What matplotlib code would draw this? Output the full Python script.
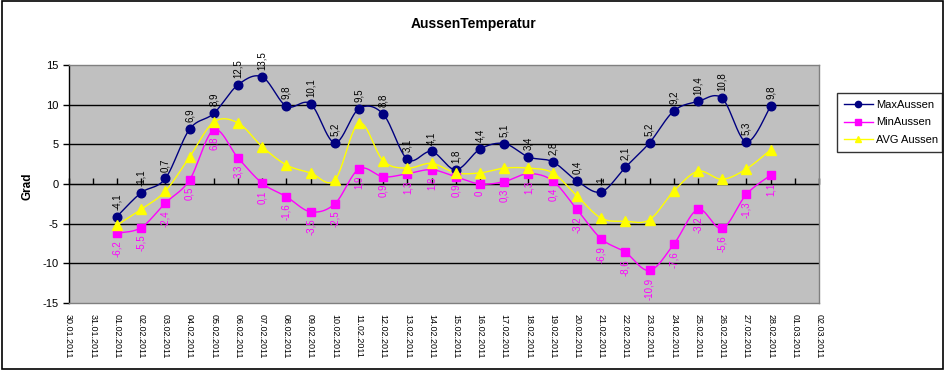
import numpy as np
import matplotlib
matplotlib.use('Agg')
import matplotlib.pyplot as plt
from matplotlib.lines import Line2D
from matplotlib.patches import Rectangle

plt.rcParams['font.family'] = ['Liberation Sans', 'DejaVu Sans']

dates = ['30.01.2011', '31.01.2011', '01.02.2011', '02.02.2011', '03.02.2011',
         '04.02.2011', '05.02.2011', '06.02.2011', '07.02.2011', '08.02.2011',
         '09.02.2011', '10.02.2011', '11.02.2011', '12.02.2011', '13.02.2011',
         '14.02.2011', '15.02.2011', '16.02.2011', '17.02.2011', '18.02.2011',
         '19.02.2011', '20.02.2011', '21.02.2011', '22.02.2011', '23.02.2011',
         '24.02.2011', '25.02.2011', '26.02.2011', '27.02.2011', '28.02.2011',
         '01.03.2011', '02.03.2011']
first_data_index = 2

max_aussen = [-4.1, -1.1, 0.7, 6.9, 8.9, 12.5, 13.5, 9.8, 10.1, 5.2, 9.5, 8.8, 3.1, 4.1,
              1.8, 4.4, 5.1, 3.4, 2.8, 0.4, -1, 2.1, 5.2, 9.2, 10.4, 10.8, 5.3, 9.8]
min_aussen = [-6.2, -5.5, -2.4, 0.5, 6.8, 3.3, 0.1, -1.6, -3.5, -2.5, 1.9, 0.9, 1.3, 1.8,
              0.9, 0, 0.3, 1.3, 0.4, -3.2, -6.9, -8.6, -10.9, -7.6, -3.2, -5.6, -1.3, 1.1]
avg_aussen = [-5.2, -3.2, -0.9, 3.4, 7.8, 7.7, 4.7, 2.4, 1.4, 0.5, 7.7, 2.9, 2.0, 2.6,
              1.4, 1.4, 2.0, 2.0, 1.4, -1.5, -4.3, -4.7, -4.5, -0.9, 1.6, 0.6, 1.9, 4.3]

series_names = ['MaxAussen', 'MinAussen', 'AVG Aussen']
y_ticks = [-15, -10, -5, 0, 5, 10, 15]


def smooth(x, y, n=24):
    pts = np.column_stack([x, y]).astype(float)
    p = np.vstack([pts[0], pts, pts[-1]])
    segs = []
    t = np.linspace(0, 1, n)[:, None]
    for i in range(1, len(p) - 2):
        p0, p1, p2, p3 = p[i - 1], p[i], p[i + 1], p[i + 2]
        c1 = p1 + (p2 - p0) / 6.0
        c2 = p2 - (p3 - p1) / 6.0
        seg = (1 - t) ** 3 * p1 + 3 * (1 - t) ** 2 * t * c1 + 3 * (1 - t) * t ** 2 * c2 + t ** 3 * p2
        segs.append(seg)
    s = np.vstack(segs)
    return s[:, 0], s[:, 1]


def fmt(v):
    if float(v).is_integer():
        return str(int(v))
    return ('%g' % v).replace('.', ',')


W, H = 946, 371
fig = plt.figure(figsize=(W / 100, H / 100), dpi=100)
fig.patch.set_facecolor('white')

left, right, top, bottom = 68.5, 819, 65, 303
ax = fig.add_axes([left / W, 1 - bottom / H, (right - left) / W, (bottom - top) / H])
ax.set_facecolor('#C0C0C0')

x = np.arange(first_data_index, first_data_index + len(max_aussen))

for v in [-10, -5, 0, 5, 10]:
    ax.axhline(v, color='black', lw=1.0, zorder=1)

styles = [
    (max_aussen, '#000080', 'o', 6.2),
    (min_aussen, '#FF00FF', 's', 6.0),
    (avg_aussen, '#FFFF00', '^', 6.5),
]
for (vals, col, mk, ms), name in zip(styles, series_names):
    sx, sy = smooth(x, vals)
    ax.plot(sx, sy, color=col, lw=1.0, zorder=3)
    ax.plot(x, vals, linestyle='none', marker=mk, color=col, markersize=ms,
            markeredgecolor=col, zorder=4)

for xi, v in zip(x, max_aussen):
    ax.annotate(fmt(v), (xi, v), xytext=(0, 5), textcoords='offset points',
                rotation=90, ha='center', va='bottom', fontsize=7, color='black', zorder=5)
for xi, v in zip(x, min_aussen):
    ax.annotate(fmt(v), (xi, v), xytext=(0, -5), textcoords='offset points',
                rotation=90, ha='center', va='top', fontsize=7, color='#FF00FF', zorder=5)

ax.set_xlim(0, len(dates) - 1)
ax.set_ylim(-15, 15)
ax.set_yticks(y_ticks)
ax.set_yticklabels([str(v) for v in y_ticks], fontsize=8)
ax.tick_params(axis='y', direction='out', length=4, width=1, color='black', pad=3)

ax.set_xticks(np.arange(len(dates)))
ax.set_xticklabels(dates, rotation=270, fontsize=6.5)
ax.tick_params(axis='x', length=0, pad=8)

sec = ax.secondary_xaxis(0.5)
sec.set_xticks(np.arange(len(dates)))
sec.set_xticklabels([])
sec.tick_params(axis='x', direction='out', length=4, width=1, color='black')
sec.spines['bottom'].set_visible(False)

for s in ['top', 'right', 'bottom']:
    ax.spines[s].set_color('#808080')
    ax.spines[s].set_linewidth(1.0)
ax.spines['left'].set_color('black')
ax.spines['left'].set_linewidth(1.0)

fig.text(474 / W, 1 - 24 / H, 'AussenTemperatur', ha='center', va='center',
         fontsize=10, fontweight='bold')
fig.text(27 / W, 1 - 186 / H, 'Grad', ha='center', va='center', rotation=90,
         fontsize=8.5, fontweight='bold')

handles = [Line2D([0], [0], color=c, marker=m, markersize=4.5, lw=1.0)
           for (_, c, m, _) in styles]
leg = fig.legend(handles, series_names, loc='upper left',
                 bbox_to_anchor=(837 / W, 1 - 153 / H, (942 - 837) / W, 60 / H),
                 mode='expand', fontsize=8, frameon=True, fancybox=False,
                 edgecolor='black', handlelength=2.6, handletextpad=0.3,
                 borderpad=0.6, labelspacing=0.7, borderaxespad=0)
leg.get_frame().set_linewidth(1.0)

fig.patches.append(Rectangle((1.5 / W, 1 - 368.5 / H), (943 - 1.5) / W, (368.5 - 1) / H,
                             transform=fig.transFigure, fill=False,
                             edgecolor='black', lw=1.2))

fig.savefig('out.png', dpi=100, facecolor='white')
